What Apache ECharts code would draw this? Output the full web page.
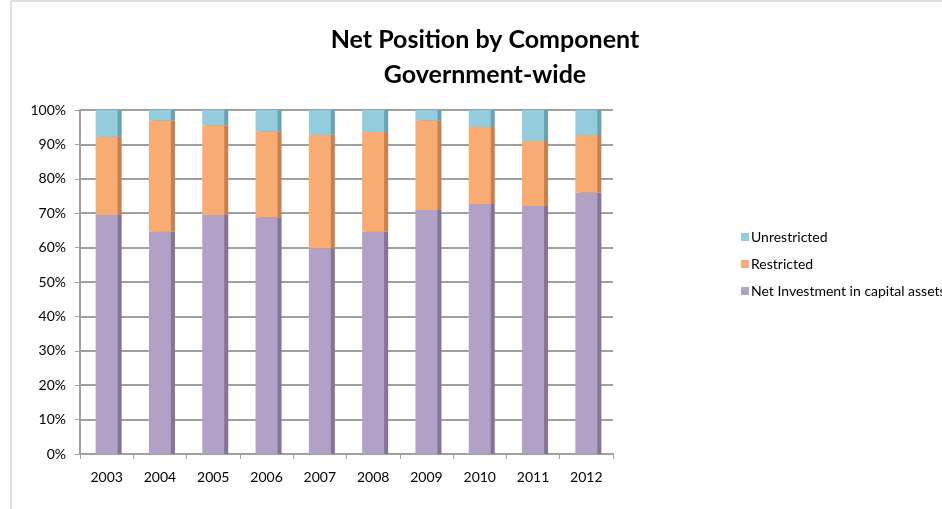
<!DOCTYPE html>
<html>
<head>
<meta charset="utf-8">
<script src="https://cdn.jsdelivr.net/npm/echarts@6/dist/echarts.min.js"></script>
<style>
  html, body { margin: 0; padding: 0; background: #fff; }
  #main { width: 942px; height: 509px; }
</style>
</head>
<body>
<div id="main"></div>
<script>
const years = ['2003', '2004', '2005', '2006', '2007', '2008', '2009', '2010', '2011', '2012'];
const netInvestment = [69.5, 64.6, 69.5, 68.8, 59.8, 64.6, 70.9, 72.7, 72.1, 76.0];
const restricted = [22.7, 32.4, 26.1, 25.0, 33.0, 29.0, 26.1, 22.4, 18.9, 16.7];
const unrestricted = [7.8, 3.0, 4.4, 6.2, 7.2, 6.4, 3.0, 4.9, 9.0, 7.3];

const chart = echarts.init(document.getElementById('main'));

function bar(name, data, color, side) {
    return {
        name: name,
        type: 'bar',
        stack: 'total',
        data: data,
        barWidth: 22,
        itemStyle: {
            color: color,
            shadowColor: side,
            shadowOffsetX: 4,
            shadowOffsetY: 0,
            shadowBlur: 0
        }
    };
}

option = {
    animation: false,
    textStyle: { fontFamily: 'Lato' },
    title: [
        {
            text: 'Net Position by Component',
            left: 480,
            top: 22,
            textAlign: 'center',
            textStyle: { fontFamily: 'Lato', fontSize: 25, fontWeight: 'bold', color: '#000' }
        },
        {
            text: 'Government-wide',
            left: 480,
            top: 57,
            textAlign: 'center',
            textStyle: { fontFamily: 'Lato', fontSize: 25, fontWeight: 'bold', color: '#000' }
        }
    ],
    legend: {
        orient: 'vertical',
        left: 736,
        top: 225,
        itemWidth: 8,
        itemHeight: 8,
        itemGap: 13,
        icon: 'rect',
        data: ['Unrestricted', 'Restricted', 'Net Investment in capital assets'],
        textStyle: { fontSize: 14, color: '#000', padding: [0, 0, 0, -3] }
    },
    grid: {
        left: 80,
        right: 329,
        top: 110,
        bottom: 55
    },
    xAxis: {
        type: 'category',
        data: years,
        axisLine: { lineStyle: { color: '#a0a0a0', width: 2 } },
        axisTick: { show: true, length: 5, lineStyle: { color: '#a0a0a0' } },
        axisLabel: { color: '#000', fontSize: 14, margin: 16 }
    },
    yAxis: {
        type: 'value',
        min: 0,
        max: 100,
        interval: 10,
        axisLine: { show: true, lineStyle: { color: '#a0a0a0', width: 2 } },
        axisTick: { show: true, length: 5, lineStyle: { color: '#a0a0a0' } },
        axisLabel: { color: '#000', fontSize: 14, formatter: '{value}%', margin: 14 },
        splitLine: { lineStyle: { color: '#a0a0a0', width: 2 } }
    },
    graphic: [
        {
            type: 'polyline',
            shape: { points: [[11, 509], [11, 1], [942, 1]] },
            style: { stroke: '#bfbfbf', lineWidth: 1, fill: null }
        }
    ],
    series: [
        bar('Net Investment in capital assets', netInvestment, '#b2a1c7', '#847598'),
        bar('Restricted', restricted, '#f9ab74', '#c9804e'),
        bar('Unrestricted', unrestricted, '#93cddd', '#6aa2b3')
    ]
};

chart.setOption(option);
</script>
</body>
</html>
